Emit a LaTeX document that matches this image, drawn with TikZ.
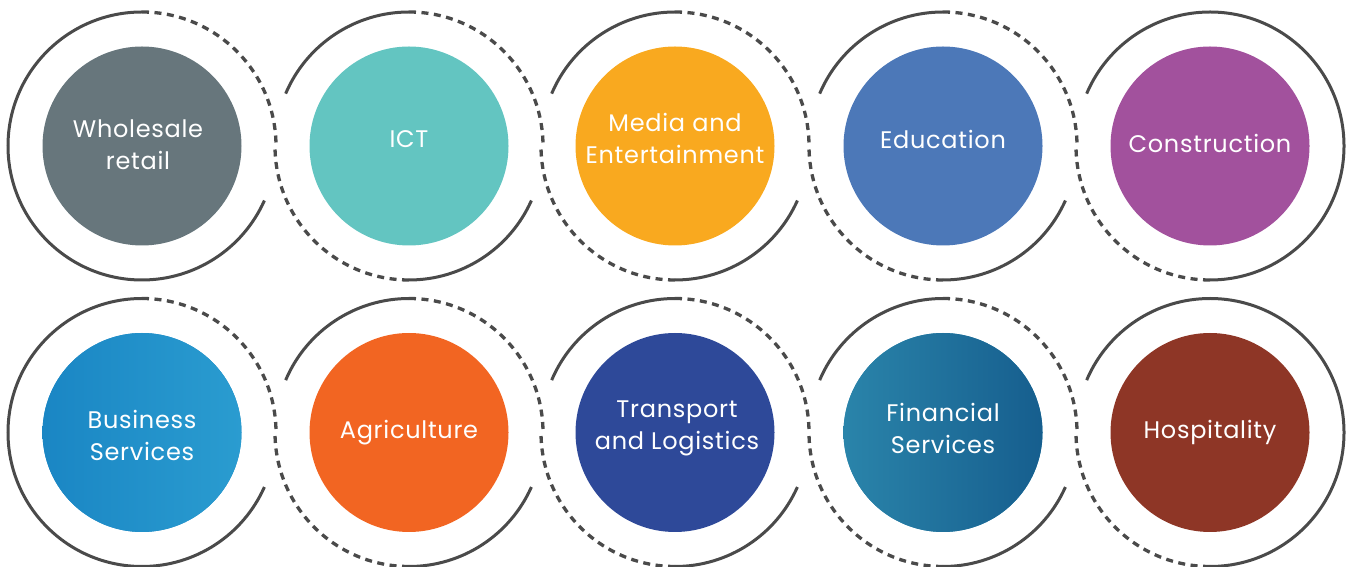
\documentclass[tikz,border=0pt]{standalone}
\usepackage{fontspec}
\setmainfont{Poppins}[LetterSpace=3]
\definecolor{ringc}{HTML}{4A4A4A}
\definecolor{cwhole}{HTML}{67767C}
\definecolor{cict}{HTML}{63C5C1}
\definecolor{cmedia}{HTML}{F9A91F}
\definecolor{cedu}{HTML}{4C78B8}
\definecolor{ccons}{HTML}{A2519D}
\definecolor{cbusL}{HTML}{1A86C4}
\definecolor{cbusR}{HTML}{2A9CD0}
\definecolor{cagri}{HTML}{F26522}
\definecolor{ctrans}{HTML}{2E4999}
\definecolor{cfinL}{HTML}{2A84AA}
\definecolor{cfinR}{HTML}{165E8E}
\definecolor{chosp}{HTML}{8E3626}
\begin{document}
\begin{tikzpicture}[x=1pt,y=1pt,
  solidring/.style={draw=ringc,line width=3pt},
  dashring/.style={draw=ringc,line width=3.3pt,dash pattern=on 7pt off 5.5pt},
  disc/.style={circle,minimum size=199pt,inner sep=0pt,fill=#1},
  lbl/.style={text=white,align=center,font=\fontsize{24}{32}\selectfont}]
\useasboundingbox (0,0) rectangle (1351,567);
\def\R{134}
% centres
\foreach \n/\x in {1/142,2/409,3/675,4/943,5/1210}{
  \coordinate (a\n) at (\x,421);
  \coordinate (b\n) at (\x,134.5);
}
% rings, both rows
\foreach \r in {a,b}{
  \draw[solidring] ([shift={(90:\R)}]\r1) arc[start angle=90,end angle=336,radius=\R];
  \draw[dashring] ([shift={(90:\R)}]\r1) arc[start angle=90,end angle=0,radius=\R];
  \foreach \k in {2,3,4}{
    \draw[solidring] ([shift={(90:\R)}]\r\k) arc[start angle=90,end angle=157,radius=\R];
    \draw[dashring] ([shift={(270:\R)}]\r\k) arc[start angle=270,end angle=180,radius=\R];
    \draw[solidring] ([shift={(270:\R)}]\r\k) arc[start angle=270,end angle=336,radius=\R];
    \draw[dashring] ([shift={(90:\R)}]\r\k) arc[start angle=90,end angle=0,radius=\R];
  }
  \draw[solidring] ([shift={(-90:\R)}]\r5) arc[start angle=-90,end angle=157,radius=\R];
  \draw[dashring] ([shift={(270:\R)}]\r5) arc[start angle=270,end angle=180,radius=\R];
}
% discs
\node[disc=cwhole] (wholesale) at (a1) {};
\node[disc=cict] (ict) at (a2) {};
\node[disc=cmedia] (media) at (a3) {};
\node[disc=cedu] (edu) at (a4) {};
\node[disc=ccons] (cons) at (a5) {};
\node[disc=cbusL,left color=cbusL,right color=cbusR] (bus) at (b1) {};
\node[disc=cagri] (agri) at (b2) {};
\node[disc=ctrans] (trans) at (b3) {};
\node[disc=cfinL,left color=cfinL,right color=cfinR] (fin) at (b4) {};
\node[disc=chosp] (hosp) at (b5) {};
% labels
\node[lbl] (twhole) at ([xshift=-4pt,yshift=1pt]wholesale) {Wholesale\\retail};
\node[lbl] (tict) at ([yshift=7pt]ict) {ICT};
\node[lbl] (tmedia) at ([yshift=8pt]media) {Media and\\Entertainment};
\node[lbl] (tedu) at ([yshift=7pt]edu) {Education};
\node[lbl] (tcons) at ([yshift=3pt]cons) {Construction};
\node[lbl] (tbus) at ([yshift=-3pt]bus) {Business\\Services};
\node[lbl] (tagri) at (agri) {Agriculture};
\node[lbl] (ttrans) at ([xshift=2pt,yshift=4pt]trans) {Transport\\and Logistics};
\node[lbl] (tfin) at ([yshift=4pt]fin) {Financial\\Services};
\node[lbl] (thosp) at (hosp) {Hospitality};
\end{tikzpicture}
\end{document}
